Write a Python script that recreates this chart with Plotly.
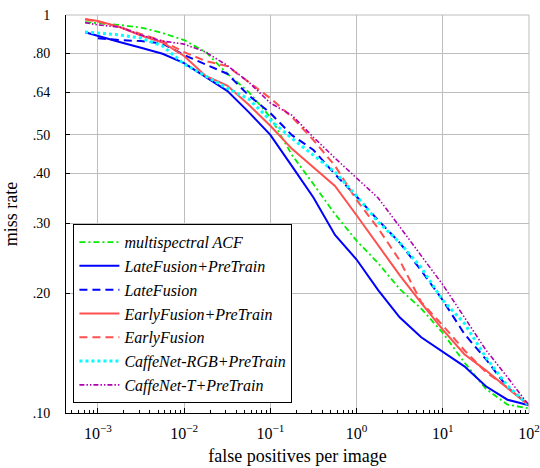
import plotly.graph_objects as go

# False positives per image (shared sample positions along each curve)
fppi = [7.1e-4, 1e-3, 1.78e-3, 3.16e-3, 5.62e-3, 1e-2, 1.78e-2, 3.16e-2, 5.62e-2,
        0.1, 0.178, 0.316, 0.562, 1.0, 1.78, 3.16, 5.62, 10.0, 17.8, 31.6, 56.2, 100.0]

# Miss rates
acf = [0.960, 0.955, 0.944, 0.930, 0.901, 0.865, 0.807, 0.713, 0.640, 0.554, 0.445,
       0.376, 0.316, 0.271, 0.238, 0.205, 0.183, 0.159, 0.134, 0.115, 0.105, 0.1027]
late_pre = [0.905, 0.885, 0.855, 0.827, 0.799, 0.757, 0.698, 0.645, 0.570, 0.500, 0.417,
            0.348, 0.280, 0.243, 0.2035, 0.174, 0.155, 0.1426, 0.131, 0.1167, 0.108, 0.1045]
late = [None, 0.874, 0.865, 0.860, 0.848, 0.793, 0.753, 0.712, 0.628, 0.567, 0.499,
        0.458, 0.398, 0.350, 0.305, 0.268, 0.228, 0.192, 0.158, 0.1365, 0.116, 0.1045]
early_pre = [0.977, 0.966, 0.933, 0.888, 0.853, 0.789, 0.703, 0.665, 0.595, 0.527, 0.461,
             0.415, 0.372, 0.314, 0.263, 0.222, 0.189, 0.162, 0.1405, 0.128, 0.1155, 0.1045]
early = [0.974, 0.963, 0.933, 0.896, 0.860, 0.807, 0.766, 0.744, 0.678, 0.618, 0.554,
         0.485, 0.418, 0.343, 0.291, 0.242, 0.190, 0.166, 0.1438, 0.1267, 0.116, 0.1045]
rgb_pre = [0.906, 0.901, 0.891, 0.875, 0.836, 0.753, 0.703, 0.655, 0.615, 0.544, 0.490,
           0.445, 0.403, 0.351, 0.302, 0.268, 0.232, 0.192, 0.168, 0.138, 0.117, 0.1045]
t_pre = [0.957, 0.944, 0.933, 0.891, 0.860, 0.845, 0.807, 0.747, 0.678, 0.601, 0.560,
         0.493, 0.437, 0.389, 0.347, 0.294, 0.248, 0.210, 0.174, 0.144, 0.123, 0.1045]

names = ["multispectral ACF", "LateFusion+PreTrain", "LateFusion",
         "EarlyFusion+PreTrain", "EarlyFusion", "CaffeNet-RGB+PreTrain",
         "CaffeNet-T+PreTrain"]
series = [acf, late_pre, late, early_pre, early, rgb_pre, t_pre]

x_tick_vals = [1e-3, 1e-2, 1e-1, 1, 10, 100]
x_tick_text = ["10<sup>−3</sup>", "10<sup>−2</sup>", "10<sup>−1</sup>",
               "10<sup>0</sup>", "10<sup>1</sup>", "10<sup>2</sup>"]
y_tick_vals = [0.10, 0.20, 0.30, 0.40, 0.50, 0.64, 0.80, 1.0]
y_tick_text = [".10", ".20", ".30", ".40", ".50", ".64", ".80", "1"]

styles = [
    dict(color="#00ee00", width=1.8, dash="6px,3px,2px,3px"),
    dict(color="#0000ff", width=2.0, dash="solid"),
    dict(color="#0000ff", width=2.0, dash="8px,5px"),
    dict(color="#ff5050", width=2.0, dash="solid"),
    dict(color="#ff5050", width=2.0, dash="8px,5px"),
    dict(color="#00ffff", width=3.0, dash="3px,3px"),
    dict(color="#b000b0", width=1.6, dash="5px,2px,1.5px,2px,1.5px,2px"),
]

fig = go.Figure()
for name, vals, st in zip(names, series, styles):
    fig.add_trace(go.Scatter(x=fppi, y=vals, mode="lines", name=name,
                             line=st, connectgaps=False))

grid = "#bdbdbd"
fig.update_layout(
    width=540, height=468,
    margin=dict(l=66, r=11, t=15, b=55),
    paper_bgcolor="white", plot_bgcolor="white",
    font=dict(family="Liberation Serif, Times New Roman, serif", color="black"),
    showlegend=True,
    legend=dict(x=0.016, y=0.4745, xanchor="left", yanchor="top",
                bordercolor="black", borderwidth=1, bgcolor="white",
                font=dict(size=16, style="italic"), tracegroupgap=0,
                itemwidth=40),
    shapes=[
        dict(type="line", xref="paper", yref="paper", x0=0, x1=1, y0=1, y1=1,
             line=dict(color=grid, width=1)),
        dict(type="line", xref="paper", yref="paper", x0=1, x1=1, y0=0, y1=1,
             line=dict(color=grid, width=1)),
    ],
)
fig.update_xaxes(
    type="log", range=[-3.37, 2.0],
    tickmode="array", tickvals=x_tick_vals, ticktext=x_tick_text,
    showgrid=True, gridcolor=grid, gridwidth=1, zeroline=False,
    showline=True, linecolor="black", linewidth=1,
    ticks="inside", ticklen=5, tickcolor="black",
    minor=dict(ticks="inside", ticklen=3, tickcolor="black", dtick="D1", showgrid=False),
    tickfont=dict(size=16), ticklabelstandoff=6,
    title=dict(text="false positives per image", font=dict(size=18), standoff=8),
    automargin=False,
)
fig.update_yaxes(
    type="log", range=[-1, 0],
    tickmode="array", tickvals=y_tick_vals, ticktext=y_tick_text,
    showgrid=True, gridcolor=grid, gridwidth=1, zeroline=False,
    showline=True, linecolor="black", linewidth=1,
    ticks="inside", ticklen=4, tickcolor="black",
    tickfont=dict(size=14), ticklabelstandoff=12,
    title=dict(text="miss rate", font=dict(size=18), standoff=10),
    automargin=False,
)
fig.write_html("out.html", config={"displayModeBar": False},
               post_script="document.body.style.margin='0px';")
